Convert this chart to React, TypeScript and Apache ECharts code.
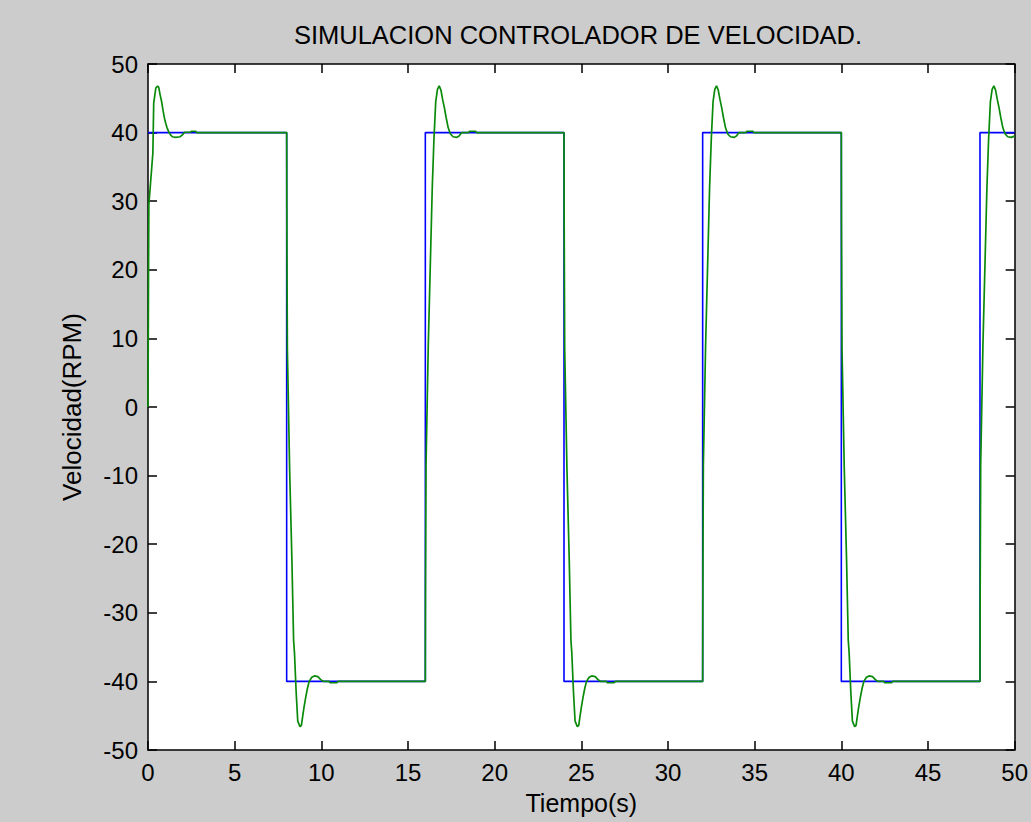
import React, { useEffect, useRef } from "react";
import * as echarts from "echarts";

// Reference (set-point) square wave: time (s) and speed (RPM)
const refTime = [0, 8, 8, 16, 16, 24, 24, 32, 32, 40, 40, 48, 48, 50];
const refSpeed = [40, 40, -40, -40, 40, 40, -40, -40, 40, 40, -40, -40, 40, 40];

// Simulated response, [time, speed]
const simEdge0 = [
  [0, 0], [0.03, 19], [0.05, 29.5], [0.28, 37], [0.33, 44.3], [0.45, 46.5], [0.55, 46.8],
  [0.62, 46.6], [0.7, 45.5], [0.78, 44.6], [0.87, 43.2], [0.95, 42.1], [1.03, 41.3],
  [1.1, 40.7], [1.2, 40.1], [1.29, 39.7], [1.4, 39.4], [1.6, 39.3], [1.85, 39.4],
  [2.0, 39.7], [2.1, 40.05], [2.45, 40.05], [2.5, 40.2], [2.75, 40.2], [2.8, 40],
];
const simEdge8 = [
  [8, 40], [8.01, 27], [8.04, 8.5], [8.17, -9], [8.3, -22], [8.4, -34], [8.45, -35.8],
  [8.55, -41.7], [8.64, -45.8], [8.77, -46.6], [8.85, -46.4], [8.93, -45], [9.0, -43.8],
  [9.1, -42.3], [9.2, -41], [9.3, -40], [9.45, -39.4], [9.6, -39.2], [9.8, -39.3],
  [9.95, -39.7], [10.1, -40], [10.45, -40], [10.5, -40.2], [10.9, -40.2], [10.95, -40],
];
const simEdge16 = [
  [16, -40], [16.01, -27], [16.04, -8.5], [16.17, 9], [16.3, 22], [16.4, 32], [16.5, 39.2],
  [16.6, 44.5], [16.7, 46.3], [16.8, 46.8], [16.9, 46.2], [17.0, 44.8], [17.1, 43.6],
  [17.2, 42.2], [17.32, 40.7], [17.45, 39.8], [17.6, 39.4], [17.8, 39.3], [17.95, 39.5],
  [18.1, 40], [18.5, 40], [18.55, 40.2], [18.9, 40.2], [18.95, 40],
];
const simEdge24 = [
  [24, 40], [24.01, 27], [24.04, 8.5], [24.17, -9], [24.3, -22], [24.4, -34], [24.45, -35.8],
  [24.55, -41.7], [24.64, -45.8], [24.77, -46.6], [24.85, -46.4], [24.93, -45], [25.0, -43.8],
  [25.1, -42.3], [25.2, -41], [25.3, -40], [25.45, -39.4], [25.6, -39.2], [25.8, -39.3],
  [25.95, -39.7], [26.1, -40], [26.45, -40], [26.5, -40.2], [26.9, -40.2], [26.95, -40],
];
const simEdge32 = [
  [32, -40], [32.01, -27], [32.04, -8.5], [32.17, 9], [32.3, 22], [32.4, 32], [32.5, 39.2],
  [32.6, 44.5], [32.7, 46.3], [32.8, 46.8], [32.9, 46.2], [33.0, 44.8], [33.1, 43.6],
  [33.2, 42.2], [33.32, 40.7], [33.45, 39.8], [33.6, 39.4], [33.8, 39.3], [33.95, 39.5],
  [34.1, 40], [34.5, 40], [34.55, 40.2], [34.9, 40.2], [34.95, 40],
];
const simEdge40 = [
  [40, 40], [40.01, 27], [40.04, 8.5], [40.17, -9], [40.3, -22], [40.4, -34], [40.45, -35.8],
  [40.55, -41.7], [40.64, -45.8], [40.77, -46.6], [40.85, -46.4], [40.93, -45], [41.0, -43.8],
  [41.1, -42.3], [41.2, -41], [41.3, -40], [41.45, -39.4], [41.6, -39.2], [41.8, -39.3],
  [41.95, -39.7], [42.1, -40], [42.45, -40], [42.5, -40.2], [42.9, -40.2], [42.95, -40],
];
const simEdge48 = [
  [48, -40], [48.01, -27], [48.04, -8.5], [48.17, 9], [48.3, 22], [48.4, 32], [48.5, 39.2],
  [48.6, 44.5], [48.7, 46.3], [48.8, 46.8], [48.9, 46.2], [49.0, 44.8], [49.1, 43.6],
  [49.2, 42.2], [49.32, 40.7], [49.45, 39.8], [49.6, 39.4], [49.8, 39.3], [49.95, 39.45],
  [50, 39.5],
];

const xTicks = { min: 0, max: 50, interval: 5 };
const yTicks = { min: -50, max: 50, interval: 10 };

const TITLE = "SIMULACION CONTROLADOR DE VELOCIDAD.";
const X_NAME = "Tiempo(s)";
const Y_NAME = "Velocidad(RPM)";

const FONT = "'Liberation Sans', Arial, Helvetica, sans-serif";

export default function App() {
  const ref = useRef<HTMLDivElement>(null);

  useEffect(() => {
    if (!ref.current) return;
    const chart = echarts.init(ref.current, undefined, { renderer: "svg" });

    const refData = refTime.map((t, i) => [t, refSpeed[i]]);
    const simData = [
      ...simEdge0, ...simEdge8, ...simEdge16, ...simEdge24, ...simEdge32, ...simEdge40, ...simEdge48,
    ];

    const axisLine = () => ({ show: true, onZero: false, lineStyle: { color: "#000", width: 1.5 } });
    const axisTick = () => ({ show: true, inside: true, length: 9, lineStyle: { color: "#000", width: 1.5 } });

    chart.setOption({
      animation: false,
      backgroundColor: "#cccccc",
      textStyle: { fontFamily: FONT },
      title: {
        text: TITLE,
        left: 573,
        top: 17,
        textAlign: "center",
        textStyle: { fontFamily: FONT, fontSize: 25.5, fontWeight: "normal", color: "#000" },
      },
      grid: { left: 148, top: 64, right: 13, bottom: 72, show: true, backgroundColor: "#fff", borderWidth: 0 },
      xAxis: [
        {
          type: "value", position: "bottom", ...xTicks,
          axisLine: axisLine(), axisTick: axisTick(),
          axisLabel: { color: "#000", fontSize: 24, fontFamily: FONT, margin: 10 },
          splitLine: { show: false },
          name: X_NAME, nameLocation: "middle", nameGap: 40,
          nameTextStyle: { color: "#000", fontSize: 25, fontFamily: FONT },
        },
        {
          type: "value", position: "top", ...xTicks,
          axisLine: axisLine(), axisTick: axisTick(), axisLabel: { show: false }, splitLine: { show: false },
        },
      ],
      yAxis: [
        {
          type: "value", position: "left", ...yTicks,
          axisLine: axisLine(), axisTick: axisTick(),
          axisLabel: { color: "#000", fontSize: 24, fontFamily: FONT, margin: 10 },
          splitLine: { show: false },
          name: Y_NAME, nameLocation: "middle", nameGap: 63, nameRotate: 90,
          nameTextStyle: { color: "#000", fontSize: 26, fontFamily: FONT },
        },
        {
          type: "value", position: "right", ...yTicks,
          axisLine: axisLine(), axisTick: axisTick(), axisLabel: { show: false }, splitLine: { show: false },
        },
      ],
      series: [
        {
          type: "line", name: "Referencia", data: refData, xAxisIndex: 0, yAxisIndex: 0,
          showSymbol: false, lineStyle: { color: "#0000ff", width: 1.6 }, z: 2,
        },
        {
          type: "line", name: "Velocidad", data: simData, xAxisIndex: 0, yAxisIndex: 0,
          showSymbol: false, lineStyle: { color: "#0a8a0a", width: 1.7 }, z: 3,
        },
      ],
    });

    return () => chart.dispose();
  }, []);

  return (
    <div
      ref={ref}
      style={{ position: "absolute", left: 0, top: 0, width: 1031, height: 822 }}
    />
  );
}
